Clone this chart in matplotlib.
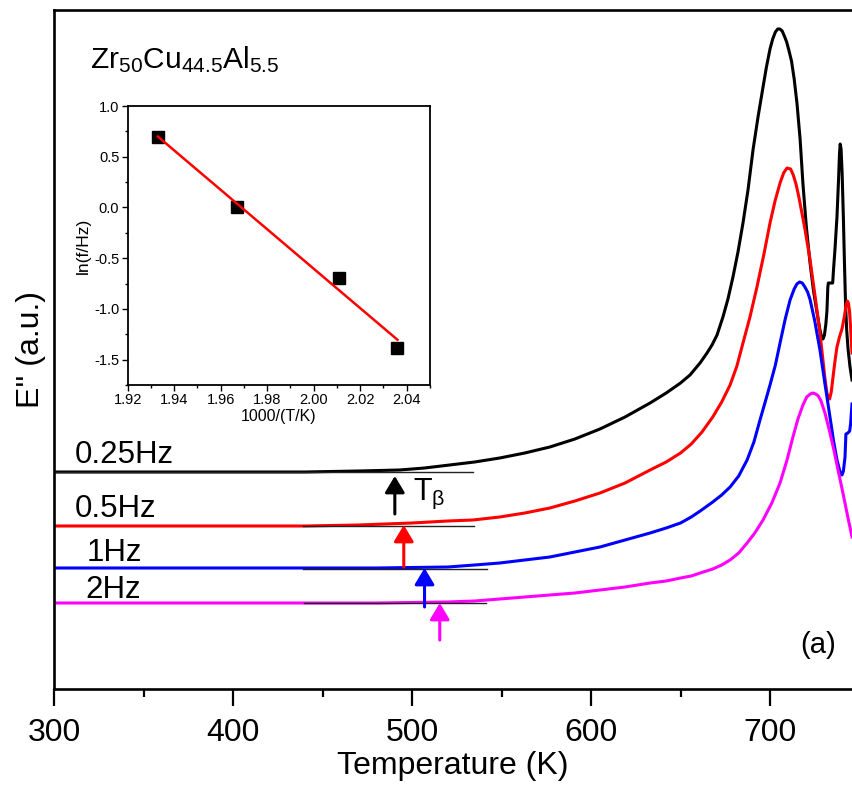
import numpy as np
import matplotlib
matplotlib.use("Agg")
import matplotlib.pyplot as plt
from matplotlib.ticker import MultipleLocator

plt.rcParams['font.family'] = ['Liberation Sans', 'DejaVu Sans']
plt.rcParams['mathtext.fontset'] = 'custom'
plt.rcParams['mathtext.rm'] = 'Liberation Sans'
plt.rcParams['mathtext.it'] = 'Liberation Sans'
plt.rcParams['axes.unicode_minus'] = False

# ---------------- data ----------------
T_black = [300, 350, 400, 440, 470, 493, 507, 521, 535, 549, 563, 577, 591, 605, 619, 633, 642, 650,
           655.3, 660.9, 664.8, 667.6, 670.4, 673.7, 676.5, 679.3, 682.1, 684.9, 687.7, 690.5,
           693.3, 696.1, 698.0, 700.0, 701.5, 703.0, 704.3, 705.5, 706.8, 708.0, 709.3, 710.5,
           712.0, 713.5, 715.1, 716.8, 718.4, 720.3, 722.3, 724.3, 726.3, 727.8, 728.8, 729.6,
           730.4, 731.2, 731.8, 732.3, 732.6, 735.0, 735.5, 736.3, 737.4, 738.3, 738.8, 739.2,
           739.7, 740.3, 741.0, 741.6, 742.2, 742.8, 743.6, 744.7, 745.8]
E_black = [2.17, 2.17, 2.17, 2.17, 2.18, 2.19, 2.21, 2.24, 2.27, 2.31, 2.36, 2.42, 2.50, 2.60, 2.72, 2.86, 2.96, 3.06,
           3.14, 3.26, 3.36, 3.44, 3.54, 3.72, 3.90, 4.12, 4.37, 4.66, 4.99, 5.39,
           5.72, 6.02, 6.22, 6.40, 6.50, 6.57, 6.60, 6.60, 6.58, 6.53, 6.47, 6.39,
           6.28, 6.10, 5.85, 5.50, 5.05, 4.62, 4.27, 3.98, 3.76, 3.60, 3.52, 3.50,
           3.54, 3.65, 3.78, 4.02, 4.06, 4.06, 4.20, 4.40, 4.72, 5.10, 5.35, 5.45,
           5.40, 5.15, 4.70, 4.25, 3.85, 3.60, 3.40, 3.22, 3.09]

T_red = [300, 400, 440, 470, 500, 520, 534, 549, 563, 577, 591, 605, 619, 633, 642, 650, 656, 662, 668,
         673, 677.7, 681.5, 684.9, 688.8, 692.7, 696.5, 700.0, 702.8, 705.6, 707.6, 709.5, 711.5,
         713.0, 714.5, 716.0, 717.5, 719.5, 722.3, 725.0, 727.9, 729.5, 730.7, 731.8, 732.6, 733.3,
         734.2, 735.2, 736.3, 737.4, 738.8, 740.2, 741.5, 742.5, 743.2, 743.8, 744.4, 745.0, 745.8]
E_red = [1.63, 1.63, 1.63, 1.64, 1.66, 1.68, 1.69, 1.72, 1.76, 1.81, 1.88, 1.96, 2.06, 2.19, 2.27, 2.36, 2.45, 2.57, 2.72,
         2.87, 3.04, 3.23, 3.46, 3.72, 4.02, 4.34, 4.66, 4.88, 5.06, 5.16, 5.21, 5.20,
         5.14, 5.05, 4.93, 4.79, 4.60, 4.30, 3.95, 3.56, 3.30, 3.10, 2.96, 2.91, 2.90,
         2.97, 3.12, 3.28, 3.42, 3.52, 3.60, 3.72, 3.84, 3.88, 3.86, 3.78, 3.62, 3.36]

T_blue = [300, 400, 440, 480, 520, 535, 549, 563, 577, 591, 605, 619, 633, 642, 650, 656, 661, 668, 673,
          677.7, 682.5, 687.2, 691.0, 694.4, 697.3, 700.0, 703.0, 705.6, 708.5, 711.2, 713.5, 715.0,
          716.5, 718.0, 719.5, 721.0, 722.3, 725.0, 727.9, 730.7, 733.5, 735.5, 737.4, 739.0, 740.2,
          741.0, 741.9, 742.4, 743.5, 744.5, 745.0, 745.8]
E_blue = [1.21, 1.21, 1.21, 1.21, 1.22, 1.24, 1.26, 1.29, 1.32, 1.37, 1.42, 1.49, 1.56, 1.61, 1.66, 1.72, 1.78, 1.87, 1.94,
          2.02, 2.13, 2.29, 2.47, 2.69, 2.87, 3.04, 3.24, 3.46, 3.70, 3.89, 4.00, 4.05,
          4.07, 4.06, 4.02, 3.97, 3.90, 3.68, 3.39, 3.05, 2.72, 2.48, 2.29, 2.18, 2.14,
          2.18, 2.32, 2.55, 2.56, 2.58, 2.65, 2.85]

T_mag = [300, 400, 440, 480, 520, 535, 549, 563, 577, 591, 605, 619, 633, 642, 650, 656, 661, 668, 673,
         677.7, 682.5, 687.2, 691.5, 696.1, 701.0, 705.6, 709.5, 712.8, 715.6, 718.4, 720.5, 722.5,
         724.0, 725.5, 727.0, 728.5, 730.7, 733.5, 735.8, 738.0, 740.5, 743.0, 745.8]
E_mag = [0.86, 0.86, 0.86, 0.86, 0.87, 0.88, 0.90, 0.92, 0.94, 0.96, 0.99, 1.02, 1.06, 1.08, 1.11, 1.13, 1.16, 1.20, 1.24,
         1.29, 1.36, 1.46, 1.56, 1.69, 1.86, 2.06, 2.29, 2.52, 2.70, 2.84, 2.92, 2.95,
         2.96, 2.95, 2.93, 2.88, 2.76, 2.56, 2.38, 2.19, 1.98, 1.76, 1.52]

freq_labels = ['0.25Hz', '0.5Hz', '1Hz', '2Hz']
label_T = [311.7, 311.7, 318.4, 317.3]
label_E = [2.26, 1.72, 1.28, 0.91]
colors = ['black', '#ff0000', '#0000ff', '#ff00ff']

# T_beta arrows (temperature, base, tip)
arrow_T = [490.4, 495.4, 507.0, 515.5]
arrow_base = [1.75, 1.22, 0.82, 0.49]
arrow_tip = [2.13, 1.64, 1.21, 0.86]

# baseline tangent lines
tan_start = [300, 439, 439, 439.7]
tan_end = [534, 534.6, 542, 541.3]
tan_level = [2.17, 1.63, 1.20, 0.86]

# inset data
inv_T = [1.933, 1.967, 2.011, 2.036]
ln_f = [0.693, 0.0, -0.693, -1.386]

# ---------------- figure ----------------
fig = plt.figure(figsize=(8.52, 7.87), dpi=100)
ax = fig.add_axes([54/852, 1-689/787, 1-54/852, (689-10)/787])

curves = [(T_black, E_black), (T_red, E_red), (T_blue, E_blue), (T_mag, E_mag)]
for (t, e), c in zip(curves, colors):
    ax.plot(t, e, color=c, lw=2.2, solid_joinstyle='round')

for s, e_, lv in zip(tan_start, tan_end, tan_level):
    ax.plot([s, e_], [lv, lv], color='#222222', lw=1.0)

for t, b, tp, c in zip(arrow_T, arrow_base, arrow_tip, colors):
    ax.annotate('', xy=(t, tp), xytext=(t, b),
                arrowprops=dict(arrowstyle='-|>,head_length=0.5,head_width=0.3',
                                color=c, lw=2.2, shrinkA=0, shrinkB=0, mutation_scale=20))

for lab, lt, le in zip(freq_labels, label_T, label_E):
    ax.text(lt, le, lab, fontsize=22.5, ha='left', va='baseline')

ax.text(500.6, 1.89, r'T$_{\beta}$', fontsize=22, ha='left', va='baseline')
ax.text(320.1, 6.21, r'Zr$_{50}$Cu$_{44.5}$Al$_{5.5}$', fontsize=21.5, ha='left', va='baseline')
ax.text(726.8, 0.44, '(a)', fontsize=21, ha='center', va='center')

ax.set_xlim(300, 745.8)
ax.set_ylim(0, 6.79)
ax.xaxis.set_major_locator(MultipleLocator(100))
ax.xaxis.set_minor_locator(MultipleLocator(50))
ax.tick_params(axis='x', which='major', direction='out', length=12, width=1.6,
               labelsize=23, pad=9)
ax.tick_params(axis='x', which='minor', direction='out', length=6, width=1.6)
ax.set_yticks([])
for sp in ['left', 'top', 'bottom']:
    ax.spines[sp].set_linewidth(1.9)
ax.spines['right'].set_visible(False)
ax.set_xlabel('Temperature (K)', fontsize=23, labelpad=2)
ax.set_ylabel("E'' (a.u.)", fontsize=23, labelpad=6)

# ---------------- inset ----------------
ins = fig.add_axes([127.7/852, 1-385/787, (430-127.7)/852, (385-106)/787])
ins.plot(inv_T, ln_f, 's', color='black', ms=9)
coef = np.polyfit(inv_T, ln_f, 1)
xfit = np.array([min(inv_T), max(inv_T)])
ins.plot(xfit, np.polyval(coef, xfit), color='#ff0000', lw=1.8)
ins.set_xlim(1.92, 2.05)
ins.set_ylim(-1.75, 1.0)
ins.xaxis.set_minor_locator(MultipleLocator(0.01))
ins.yaxis.set_major_locator(MultipleLocator(0.5))
ins.yaxis.set_minor_locator(MultipleLocator(0.25))
ins.set_xticks([1.92, 1.94, 1.96, 1.98, 2.00, 2.02, 2.04])
ins.set_xticklabels(['1.92', '1.94', '1.96', '1.98', '2.00', '2.02', '2.04'])
ins.tick_params(which='major', direction='out', length=4, width=1, labelsize=10.5, pad=2)
ins.tick_params(which='minor', direction='out', length=2.5, width=1)
for sp in ins.spines.values():
    sp.set_linewidth(1.3)
ins.set_xlabel('1000/(T/K)', fontsize=11.5, labelpad=1)
ins.set_ylabel('ln(f/Hz)', fontsize=12.5, labelpad=2)

fig.savefig('out.png', dpi=100)
